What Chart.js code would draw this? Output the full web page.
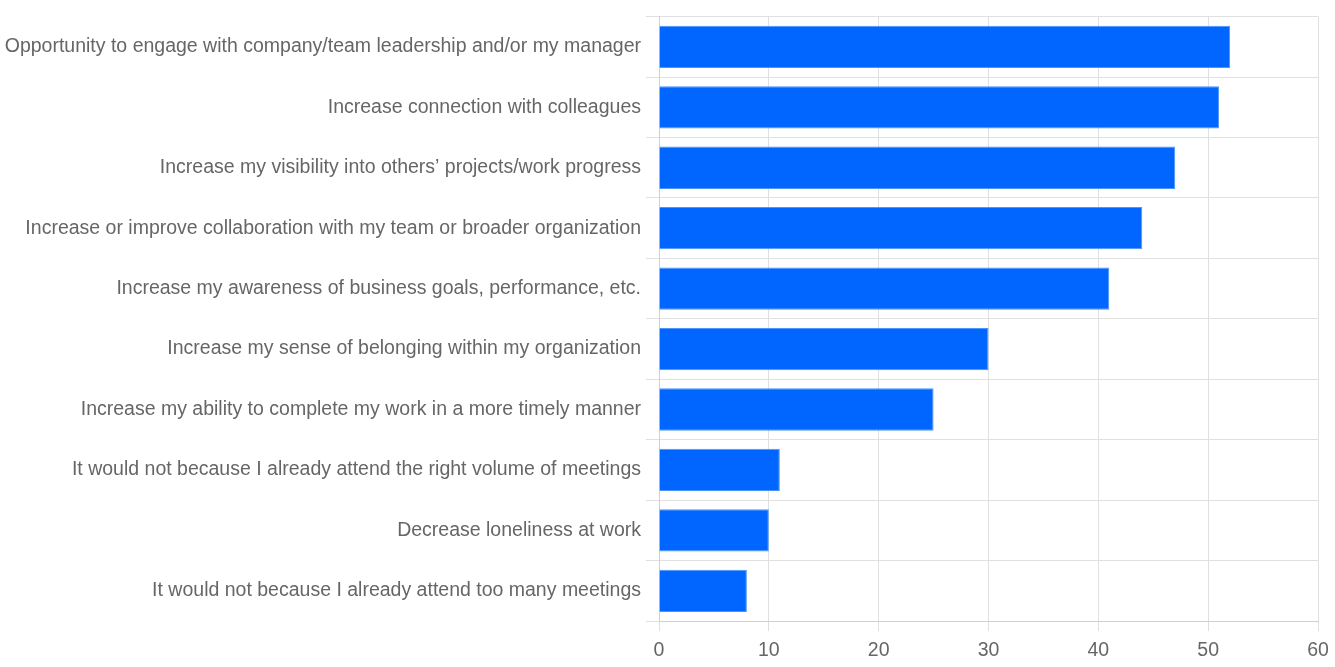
<!DOCTYPE html>
<html>
<head>
<meta charset="utf-8">
<script src="https://cdn.jsdelivr.net/npm/chart.js@4"></script>
<style>
  html, body { margin: 0; padding: 0; background: #fff; }
  #wrap { width: 1335px; height: 667px; }
</style>
</head>
<body>
<div id="wrap"><canvas id="chart"></canvas></div>
<script>
const categories = [
  'Opportunity to engage with company/team leadership and/or my manager',
  'Increase connection with colleagues',
  'Increase my visibility into others\u2019 projects/work progress',
  'Increase or improve collaboration with my team or broader organization',
  'Increase my awareness of business goals, performance, etc.',
  'Increase my sense of belonging within my organization',
  'Increase my ability to complete my work in a more timely manner',
  'It would not because I already attend the right volume of meetings',
  'Decrease loneliness at work',
  'It would not because I already attend too many meetings'
];
const responses = [52, 51, 47, 44, 41, 30, 25, 11, 10, 8];
const xTicks = [0, 10, 20, 30, 40, 50, 60];

const labelFont = { family: 'Liberation Sans, Arial, sans-serif', size: 19.5 };

const ctx = document.getElementById('chart').getContext('2d');
new Chart(ctx, {
  type: 'bar',
  data: {
    labels: categories,
    datasets: [{
      data: responses,
      backgroundColor: '#0066ff',
      borderColor: '#4d94ff',
      borderWidth: 1,
      barPercentage: 0.7,
      categoryPercentage: 1
    }]
  },
  options: {
    indexAxis: 'y',
    responsive: true,
    maintainAspectRatio: false,
    animation: false,
    layout: { padding: { top: 16, right: 17, left: 0, bottom: 1 } },
    plugins: { legend: { display: false }, tooltip: { enabled: false } },
    scales: {
      x: {
        min: 0,
        max: 60,
        afterBuildTicks: axis => { axis.ticks = xTicks.map(v => ({ value: v })); },
        afterFit: axis => { axis.height = 45; axis.paddingRight = 0; },
        grid: { color: '#e0e0e0', tickLength: 10 },
        border: { color: '#d0d0d0' },
        ticks: { color: '#666', font: labelFont, padding: 8 }
      },
      y: {
        afterFit: axis => { axis.width = 659; },
        grid: { color: '#e0e0e0', offset: true, tickLength: 13 },
        border: { color: '#d0d0d0' },
        ticks: { color: '#666', font: labelFont, padding: 5 }
      }
    }
  }
});
</script>
</body>
</html>
